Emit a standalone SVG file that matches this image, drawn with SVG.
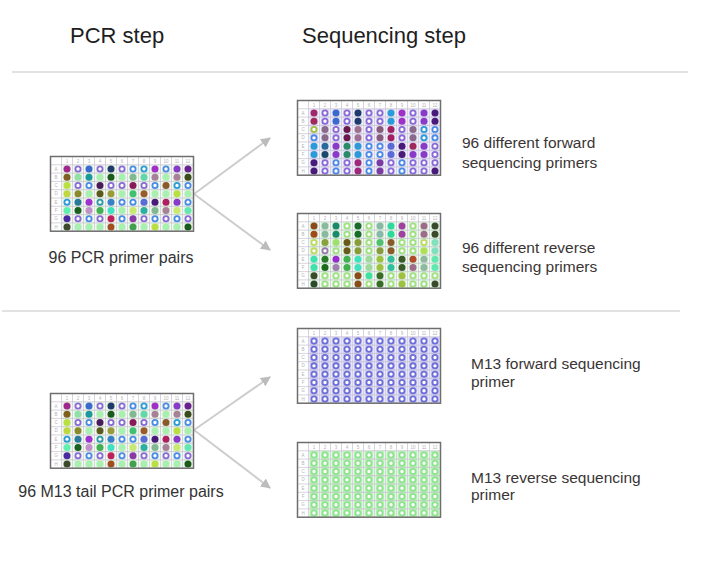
<svg xmlns="http://www.w3.org/2000/svg" xmlns:xlink="http://www.w3.org/1999/xlink" width="720" height="567" viewBox="0 0 720 567">
<style>
text{font-family:"Liberation Sans",Arial,sans-serif}
.hd{font-size:22px;fill:#1e1e1e}
.lb{font-size:16px;fill:#333}
.rl{font-size:15.5px;fill:#3a3535}
.sep{stroke:#e2e2e2;stroke-width:2;fill:none}
.con{stroke:#cdcdcd;stroke-width:2;fill:none}
.gl{stroke:#bdb6c8;stroke-width:0.6;fill:none}
.bd{stroke:#6e6e6e;stroke-width:1.5;fill:none}
.tiny{font-size:4.5px;fill:#b4b4b4;text-anchor:middle}
circle{r:3.5px}
.o{r:2.6px;fill:#fff;stroke-width:1.8}
.m13f .o{fill:#dedefa;stroke-width:1.6}
.m13r .o{fill:#c6f4c6;stroke-width:1.6}
</style>
<defs>
<marker id="ah" viewBox="0 0 10 10" refX="9" refY="5" markerWidth="10" markerHeight="10" markerUnits="userSpaceOnUse" orient="auto"><path d="M0 0L10 5L0 10z" fill="#bcbcbc"/></marker>
<g id="stripes"><rect x="12" y="8.3" width="9" height="66.4"/><rect x="23" y="8.3" width="9" height="66.4"/><rect x="34" y="8.3" width="9" height="66.4"/><rect x="45" y="8.3" width="9" height="66.4"/><rect x="56" y="8.3" width="9" height="66.4"/><rect x="67" y="8.3" width="9" height="66.4"/><rect x="78" y="8.3" width="9" height="66.4"/><rect x="89" y="8.3" width="9" height="66.4"/><rect x="100" y="8.3" width="9" height="66.4"/><rect x="111" y="8.3" width="9" height="66.4"/><rect x="122" y="8.3" width="9" height="66.4"/><rect x="133" y="8.3" width="9" height="66.4"/></g>
<g id="grid">
<path class="gl" d="M11 0V74.7M22 0V74.7M33 0V74.7M44 0V74.7M55 0V74.7M66 0V74.7M77 0V74.7M88 0V74.7M99 0V74.7M110 0V74.7M121 0V74.7M132 0V74.7M0 8.3H143M0 16.6H143M0 24.9H143M0 33.2H143M0 41.5H143M0 49.8H143M0 58.1H143M0 66.4H143"/>
<text class="tiny" x="16.5" y="6">1</text><text class="tiny" x="27.5" y="6">2</text><text class="tiny" x="38.5" y="6">3</text><text class="tiny" x="49.5" y="6">4</text><text class="tiny" x="60.5" y="6">5</text><text class="tiny" x="71.5" y="6">6</text><text class="tiny" x="82.5" y="6">7</text><text class="tiny" x="93.5" y="6">8</text><text class="tiny" x="104.5" y="6">9</text><text class="tiny" x="115.5" y="6">10</text><text class="tiny" x="126.5" y="6">11</text><text class="tiny" x="137.5" y="6">12</text>
<text class="tiny" x="5.5" y="14">A</text><text class="tiny" x="5.5" y="22.3">B</text><text class="tiny" x="5.5" y="30.6">C</text><text class="tiny" x="5.5" y="38.9">D</text><text class="tiny" x="5.5" y="47.2">E</text><text class="tiny" x="5.5" y="55.5">F</text><text class="tiny" x="5.5" y="63.8">G</text><text class="tiny" x="5.5" y="72.1">H</text>
</g>
<rect id="border" class="bd" x="0" y="0" width="143" height="74.7"/>
<g id="pcrWells">
<g transform="translate(0 12.45)"><circle cx="16.5" fill="#a0288c"/><circle class="o" cx="27.5" stroke="#8a6ad8"/><circle cx="38.5" fill="#3a6ad0"/><circle class="o" cx="49.5" stroke="#8a6ad8"/><circle cx="60.5" fill="#1e3a6a"/><circle class="o" cx="71.5" stroke="#8a6ad8"/><circle class="o" cx="82.5" stroke="#4a8ae8"/><circle class="o" cx="93.5" stroke="#2a9ad8"/><circle cx="104.5" fill="#a030c8"/><circle class="o" cx="115.5" stroke="#4a8ae8"/><circle cx="126.5" fill="#8a3ac8"/><circle cx="137.5" fill="#6a2090"/></g>
<g transform="translate(0 20.75)"><circle cx="16.5" fill="#806020"/><circle cx="27.5" fill="#90e0a8"/><circle cx="38.5" fill="#1a9a9a"/><circle cx="49.5" fill="#a8f0b0"/><circle cx="60.5" fill="#1a5a1a"/><circle cx="71.5" fill="#a8f0b0"/><circle cx="82.5" fill="#80b890"/><circle cx="93.5" fill="#60d8a8"/><circle cx="104.5" fill="#a88098"/><circle cx="115.5" fill="#a8f0b0"/><circle cx="126.5" fill="#a88098"/><circle cx="137.5" fill="#3a4a1a"/></g>
<g transform="translate(0 29.05)"><circle cx="16.5" fill="#b8e040"/><circle class="o" cx="27.5" stroke="#8a6ad8"/><circle class="o" cx="38.5" stroke="#4a8ae8"/><circle cx="49.5" fill="#4a1a5a"/><circle class="o" cx="60.5" stroke="#8a6ad8"/><circle class="o" cx="71.5" stroke="#8a6ad8"/><circle cx="82.5" fill="#8a1a5a"/><circle class="o" cx="93.5" stroke="#8a6ad8"/><circle class="o" cx="104.5" stroke="#4a8ae8"/><circle cx="115.5" fill="#8a5a2a"/><circle class="o" cx="126.5" stroke="#2a9ad8"/><circle class="o" cx="137.5" stroke="#4a8ae8"/></g>
<g transform="translate(0 37.35)"><circle cx="16.5" fill="#c0d840"/><circle cx="27.5" fill="#8a8a2a"/><circle cx="38.5" fill="#a8f0b0"/><circle cx="49.5" fill="#5a5a1a"/><circle cx="60.5" fill="#9a9a3a"/><circle cx="71.5" fill="#a8f0b0"/><circle cx="82.5" fill="#40c070"/><circle cx="93.5" fill="#9a5a2a"/><circle cx="104.5" fill="#a8f0b0"/><circle cx="115.5" fill="#a8f0b0"/><circle cx="126.5" fill="#b8e040"/><circle cx="137.5" fill="#a8f0b0"/></g>
<g transform="translate(0 45.65)"><circle class="o" cx="16.5" stroke="#2a9ad8"/><circle cx="27.5" fill="#2a7a9a"/><circle cx="38.5" fill="#a030d0"/><circle class="o" cx="49.5" stroke="#2a9aaa"/><circle cx="60.5" fill="#3a80c8"/><circle class="o" cx="71.5" stroke="#4a8ae8"/><circle class="o" cx="82.5" stroke="#4a8ae8"/><circle cx="93.5" fill="#5a6ad8"/><circle cx="104.5" fill="#4a1a7a"/><circle cx="115.5" fill="#b02060"/><circle cx="126.5" fill="#8a3ac8"/><circle class="o" cx="137.5" stroke="#4a8ae8"/></g>
<g transform="translate(0 53.95)"><circle cx="16.5" fill="#60f0b0"/><circle cx="27.5" fill="#1a6020"/><circle cx="38.5" fill="#c090c8"/><circle cx="49.5" fill="#40b050"/><circle cx="60.5" fill="#40e0c0"/><circle cx="71.5" fill="#a8f0b0"/><circle cx="82.5" fill="#c8e870"/><circle cx="93.5" fill="#2ab0a0"/><circle cx="104.5" fill="#80b890"/><circle cx="115.5" fill="#a88098"/><circle cx="126.5" fill="#c8e870"/><circle cx="137.5" fill="#60e8b0"/></g>
<g transform="translate(0 62.25)"><circle cx="16.5" fill="#4a2aa0"/><circle class="o" cx="27.5" stroke="#8a6ad8"/><circle class="o" cx="38.5" stroke="#4a8ae8"/><circle class="o" cx="49.5" stroke="#8a6ad8"/><circle cx="60.5" fill="#c0205a"/><circle class="o" cx="71.5" stroke="#4a8ae8"/><circle cx="82.5" fill="#8a3aa8"/><circle class="o" cx="93.5" stroke="#8a6ad8"/><circle class="o" cx="104.5" stroke="#4a8ae8"/><circle class="o" cx="115.5" stroke="#8a6ad8"/><circle class="o" cx="126.5" stroke="#4a8ae8"/><circle class="o" cx="137.5" stroke="#8a6ad8"/></g>
<g transform="translate(0 70.55)"><circle cx="16.5" fill="#3a4a2a"/><circle cx="27.5" fill="#a8f0b0"/><circle cx="38.5" fill="#a8f0b0"/><circle cx="49.5" fill="#a8f0b0"/><circle cx="60.5" fill="#a05020"/><circle cx="71.5" fill="#a8f0b0"/><circle cx="82.5" fill="#40a050"/><circle cx="93.5" fill="#a8f0b0"/><circle cx="104.5" fill="#b8e040"/><circle cx="115.5" fill="#a8f0b0"/><circle cx="126.5" fill="#a8f0b0"/><circle cx="137.5" fill="#1a5a1a"/></g>
</g>
<g id="m13fRow"><circle class="o" cx="16.5"/><circle class="o" cx="27.5"/><circle class="o" cx="38.5"/><circle class="o" cx="49.5"/><circle class="o" cx="60.5"/><circle class="o" cx="71.5"/><circle class="o" cx="82.5"/><circle class="o" cx="93.5"/><circle class="o" cx="104.5"/><circle class="o" cx="115.5"/><circle class="o" cx="126.5"/><circle class="o" cx="137.5"/></g>
</defs>
<rect width="720" height="567" fill="#fff"/>

<g id="headers">
<text class="hd" x="70" y="43">PCR step</text>
<text class="hd" x="302" y="43">Sequencing step</text>
</g>
<g id="separators">
<path class="sep" d="M12 72H688"/>
<path class="sep" d="M2 311H680"/>
</g>

<g id="connectors">
<path class="con" d="M194 194L270 138" marker-end="url(#ah)"/>
<path class="con" d="M194 194L270 250" marker-end="url(#ah)"/>
<path class="con" d="M194 430L270 377" marker-end="url(#ah)"/>
<path class="con" d="M194 430L270 488" marker-end="url(#ah)"/>
</g>

<g id="pcr-plate-1" transform="translate(50.5 156.5)">
<rect width="143" height="74.7" fill="#fff"/>
<use xlink:href="#stripes" fill="#e6f4e4"/>
<use xlink:href="#grid"/>
<use xlink:href="#pcrWells"/>
<use xlink:href="#border"/>
</g>
<g id="pcr-label-1"><text class="lb" x="121" y="263" text-anchor="middle">96 PCR primer pairs</text></g>

<g id="seq-forward-plate" transform="translate(297.5 100.5)">
<rect width="143" height="74.7" fill="#fff"/>
<use xlink:href="#stripes" fill="#e2e2f6"/>
<use xlink:href="#grid"/>
<g transform="translate(0 12.45)"><circle cx="16.5" fill="#a0286a"/><circle class="o" cx="27.5" stroke="#8a6ad8"/><circle cx="38.5" fill="#3a6ad0"/><circle class="o" cx="49.5" stroke="#8a6ad8"/><circle cx="60.5" fill="#1e3a6a"/><circle class="o" cx="71.5" stroke="#8a6ad8"/><circle class="o" cx="82.5" stroke="#8a6ad8"/><circle cx="93.5" fill="#2a9ad8"/><circle cx="104.5" fill="#a030c8"/><circle class="o" cx="115.5" stroke="#8a6ad8"/><circle cx="126.5" fill="#8a3ac8"/><circle cx="137.5" fill="#4a1a7a"/></g>
<g transform="translate(0 20.75)"><circle cx="16.5" fill="#a0285a"/><circle class="o" cx="27.5" stroke="#8a6ad8"/><circle cx="38.5" fill="#3a6ad0"/><circle class="o" cx="49.5" stroke="#8a6ad8"/><circle cx="60.5" fill="#1e3a6a"/><circle class="o" cx="71.5" stroke="#8a6ad8"/><circle class="o" cx="82.5" stroke="#8a6ad8"/><circle cx="93.5" fill="#2a9ad8"/><circle cx="104.5" fill="#a030c8"/><circle class="o" cx="115.5" stroke="#8a6ad8"/><circle cx="126.5" fill="#8a3ac8"/><circle cx="137.5" fill="#4a1a7a"/></g>
<g transform="translate(0 29.05)"><circle class="o" cx="16.5" stroke="#a0c040"/><circle cx="27.5" fill="#8a6a8a"/><circle class="o" cx="38.5" stroke="#8a6ad8"/><circle cx="49.5" fill="#6a1a4a"/><circle cx="60.5" fill="#a07090"/><circle class="o" cx="71.5" stroke="#8a6ad8"/><circle cx="82.5" fill="#8a5a7a"/><circle cx="93.5" fill="#a02060"/><circle class="o" cx="104.5" stroke="#8a6ad8"/><circle cx="115.5" fill="#8a6a8a"/><circle class="o" cx="126.5" stroke="#2a9ad8"/><circle class="o" cx="137.5" stroke="#4a8ae8"/></g>
<g transform="translate(0 37.35)"><circle class="o" cx="16.5" stroke="#4a8ae8"/><circle cx="27.5" fill="#8a6a8a"/><circle class="o" cx="38.5" stroke="#8a6ad8"/><circle cx="49.5" fill="#6a1a4a"/><circle cx="60.5" fill="#a07090"/><circle class="o" cx="71.5" stroke="#8a6ad8"/><circle cx="82.5" fill="#8a5a7a"/><circle cx="93.5" fill="#a02060"/><circle class="o" cx="104.5" stroke="#8a6ad8"/><circle cx="115.5" fill="#8a6a8a"/><circle class="o" cx="126.5" stroke="#2a9ad8"/><circle class="o" cx="137.5" stroke="#4a8ae8"/></g>
<g transform="translate(0 45.65)"><circle cx="16.5" fill="#2a9ad8"/><circle cx="27.5" fill="#2a6a9a"/><circle cx="38.5" fill="#8a3ac8"/><circle cx="49.5" fill="#2a8a6a"/><circle cx="60.5" fill="#2a9ad8"/><circle class="o" cx="71.5" stroke="#4a8ae8"/><circle class="o" cx="82.5" stroke="#4a8ae8"/><circle cx="93.5" fill="#5a6ad8"/><circle cx="104.5" fill="#4a1a7a"/><circle cx="115.5" fill="#a0285a"/><circle cx="126.5" fill="#8a3ac8"/><circle class="o" cx="137.5" stroke="#8a6ad8"/></g>
<g transform="translate(0 53.95)"><circle cx="16.5" fill="#2a9ad8"/><circle cx="27.5" fill="#1a4a6a"/><circle cx="38.5" fill="#8a3ac8"/><circle cx="49.5" fill="#2a8a6a"/><circle cx="60.5" fill="#2a9ad8"/><circle class="o" cx="71.5" stroke="#4a8ae8"/><circle class="o" cx="82.5" stroke="#4a8ae8"/><circle cx="93.5" fill="#5a6ad8"/><circle cx="104.5" fill="#4a1a7a"/><circle cx="115.5" fill="#8a3ac8"/><circle cx="126.5" fill="#8a3ac8"/><circle class="o" cx="137.5" stroke="#8a6ad8"/></g>
<g transform="translate(0 62.25)"><circle cx="16.5" fill="#4a1a7a"/><circle class="o" cx="27.5" stroke="#8a6ad8"/><circle class="o" cx="38.5" stroke="#4a8ae8"/><circle class="o" cx="49.5" stroke="#8a6ad8"/><circle cx="60.5" fill="#a0287a"/><circle class="o" cx="71.5" stroke="#4a8ae8"/><circle cx="82.5" fill="#7a3aa0"/><circle class="o" cx="93.5" stroke="#8a6ad8"/><circle class="o" cx="104.5" stroke="#4a8ae8"/><circle class="o" cx="115.5" stroke="#8a6ad8"/><circle class="o" cx="126.5" stroke="#8a6ad8"/><circle class="o" cx="137.5" stroke="#8a6ad8"/></g>
<g transform="translate(0 70.55)"><circle cx="16.5" fill="#4a1a7a"/><circle class="o" cx="27.5" stroke="#8a6ad8"/><circle class="o" cx="38.5" stroke="#4a8ae8"/><circle class="o" cx="49.5" stroke="#8a6ad8"/><circle cx="60.5" fill="#a0287a"/><circle class="o" cx="71.5" stroke="#4a8ae8"/><circle cx="82.5" fill="#7a3aa0"/><circle class="o" cx="93.5" stroke="#8a6ad8"/><circle class="o" cx="104.5" stroke="#4a8ae8"/><circle class="o" cx="115.5" stroke="#8a6ad8"/><circle class="o" cx="126.5" stroke="#8a6ad8"/><circle cx="137.5" fill="#4a1a7a"/></g>
<use xlink:href="#border"/>
</g>
<g id="seq-forward-label">
<text class="rl" x="462" y="148">96 different forward</text>
<text class="rl" x="462" y="168">sequencing primers</text>
</g>

<g id="seq-reverse-plate" transform="translate(297.5 213.5)">
<rect width="143" height="74.7" fill="#fff"/>
<use xlink:href="#stripes" fill="#dcf6dc"/>
<use xlink:href="#grid"/>
<g transform="translate(0 12.45)"><circle cx="16.5" fill="#8a4a1a"/><circle cx="27.5" fill="#8ab8a0"/><circle cx="38.5" fill="#1a8a6a"/><circle class="o" cx="49.5" stroke="#a0e080"/><circle cx="60.5" fill="#1a6a2a"/><circle class="o" cx="71.5" stroke="#a0e080"/><circle cx="82.5" fill="#8ab8a8"/><circle cx="93.5" fill="#30d8a0"/><circle cx="104.5" fill="#a040a0"/><circle class="o" cx="115.5" stroke="#a0e080"/><circle cx="126.5" fill="#a06a8a"/><circle cx="137.5" fill="#3a4a2a"/></g>
<g transform="translate(0 20.75)"><circle cx="16.5" fill="#a04a1a"/><circle cx="27.5" fill="#8ab8a0"/><circle cx="38.5" fill="#1a8a6a"/><circle class="o" cx="49.5" stroke="#a0e080"/><circle cx="60.5" fill="#1a6a2a"/><circle class="o" cx="71.5" stroke="#a0e080"/><circle cx="82.5" fill="#8ab8a8"/><circle cx="93.5" fill="#30d8a0"/><circle cx="104.5" fill="#a040a0"/><circle class="o" cx="115.5" stroke="#a0e080"/><circle cx="126.5" fill="#a06a8a"/><circle cx="137.5" fill="#3a4a2a"/></g>
<g transform="translate(0 29.05)"><circle class="o" cx="16.5" stroke="#c0d860"/><circle cx="27.5" fill="#8aa040"/><circle cx="38.5" fill="#a0e070"/><circle cx="49.5" fill="#6a5a1a"/><circle cx="60.5" fill="#8a9a3a"/><circle class="o" cx="71.5" stroke="#a0e080"/><circle cx="82.5" fill="#50c070"/><circle cx="93.5" fill="#8a5a2a"/><circle class="o" cx="104.5" stroke="#a0e080"/><circle class="o" cx="115.5" stroke="#a0e080"/><circle class="o" cx="126.5" stroke="#c0d860"/><circle cx="137.5" fill="#80e0c0"/></g>
<g transform="translate(0 37.35)"><circle class="o" cx="16.5" stroke="#c0d860"/><circle class="o" cx="27.5" stroke="#9a7ab0"/><circle class="o" cx="38.5" stroke="#a0e080"/><circle cx="49.5" fill="#6a5a1a"/><circle cx="60.5" fill="#8a9a3a"/><circle class="o" cx="71.5" stroke="#a0e080"/><circle cx="82.5" fill="#8a9a3a"/><circle cx="93.5" fill="#8a5a2a"/><circle class="o" cx="104.5" stroke="#a0e080"/><circle class="o" cx="115.5" stroke="#a0e080"/><circle cx="126.5" fill="#b0e050"/><circle cx="137.5" fill="#80e0c0"/></g>
<g transform="translate(0 45.65)"><circle cx="16.5" fill="#40e0b0"/><circle cx="27.5" fill="#2a7a2a"/><circle cx="38.5" fill="#9a2ad0"/><circle cx="49.5" fill="#40b050"/><circle cx="60.5" fill="#40e0c0"/><circle cx="71.5" fill="#a0d8a0"/><circle cx="82.5" fill="#a0c040"/><circle cx="93.5" fill="#30c0a0"/><circle cx="104.5" fill="#3a5a2a"/><circle cx="115.5" fill="#b04a2a"/><circle cx="126.5" fill="#90b8a0"/><circle cx="137.5" fill="#60e8b0"/></g>
<g transform="translate(0 53.95)"><circle cx="16.5" fill="#40e0b0"/><circle cx="27.5" fill="#1a6a1a"/><circle cx="38.5" fill="#a080b0"/><circle cx="49.5" fill="#40b050"/><circle cx="60.5" fill="#40e0c0"/><circle cx="71.5" fill="#a0d8a0"/><circle cx="82.5" fill="#a0c040"/><circle cx="93.5" fill="#30c0a0"/><circle cx="104.5" fill="#3a5a2a"/><circle cx="115.5" fill="#a06a8a"/><circle cx="126.5" fill="#90b8a0"/><circle cx="137.5" fill="#60e8b0"/></g>
<g transform="translate(0 62.25)"><circle cx="16.5" fill="#3a4a2a"/><circle class="o" cx="27.5" stroke="#a0e080"/><circle class="o" cx="38.5" stroke="#a0e080"/><circle class="o" cx="49.5" stroke="#a0e080"/><circle cx="60.5" fill="#8a4a1a"/><circle cx="71.5" fill="#40e0a0"/><circle cx="82.5" fill="#3a6a2a"/><circle class="o" cx="93.5" stroke="#a0e080"/><circle cx="104.5" fill="#a0c040"/><circle class="o" cx="115.5" stroke="#a0e080"/><circle class="o" cx="126.5" stroke="#a0e080"/><circle class="o" cx="137.5" stroke="#a0e080"/></g>
<g transform="translate(0 70.55)"><circle cx="16.5" fill="#2a4a2a"/><circle class="o" cx="27.5" stroke="#a0e080"/><circle class="o" cx="38.5" stroke="#a0e080"/><circle class="o" cx="49.5" stroke="#a0e080"/><circle cx="60.5" fill="#8a4a1a"/><circle class="o" cx="71.5" stroke="#a0e080"/><circle cx="82.5" fill="#3a6a2a"/><circle class="o" cx="93.5" stroke="#a0e080"/><circle cx="104.5" fill="#a0c040"/><circle class="o" cx="115.5" stroke="#a0e080"/><circle class="o" cx="126.5" stroke="#a0e080"/><circle cx="137.5" fill="#3a4a2a"/></g>
<use xlink:href="#border"/>
</g>
<g id="seq-reverse-label">
<text class="rl" x="462" y="253">96 different reverse</text>
<text class="rl" x="462" y="272">sequencing primers</text>
</g>

<g id="pcr-plate-2" transform="translate(50.5 393.5)">
<rect width="143" height="74.7" fill="#fff"/>
<use xlink:href="#stripes" fill="#e6f4e4"/>
<use xlink:href="#grid"/>
<use xlink:href="#pcrWells"/>
<use xlink:href="#border"/>
</g>
<g id="pcr-label-2"><text class="lb" x="121" y="497" text-anchor="middle">96 M13 tail PCR primer pairs</text></g>

<g id="m13-forward-plate" transform="translate(297.5 328.5)">
<rect width="143" height="74.7" fill="#fff"/>
<use xlink:href="#stripes" fill="#cfcff6"/>
<use xlink:href="#grid"/>
<g class="m13f" stroke="#6e6ed8">
<use xlink:href="#m13fRow" y="12.45"/><use xlink:href="#m13fRow" y="20.75"/><use xlink:href="#m13fRow" y="29.05"/><use xlink:href="#m13fRow" y="37.35"/><use xlink:href="#m13fRow" y="45.65"/><use xlink:href="#m13fRow" y="53.95"/><use xlink:href="#m13fRow" y="62.25"/><use xlink:href="#m13fRow" y="70.55"/>
</g>
<use xlink:href="#border"/>
</g>
<g id="m13-forward-label">
<text class="rl" x="471" y="369">M13 forward sequencing</text>
<text class="rl" x="471" y="387">primer</text>
</g>

<g id="m13-reverse-plate" transform="translate(297.5 442.5)">
<rect width="143" height="74.7" fill="#fff"/>
<use xlink:href="#stripes" fill="#bff2bf"/>
<use xlink:href="#grid"/>
<g class="m13r" stroke="#8ee48e">
<use xlink:href="#m13fRow" y="12.45"/><use xlink:href="#m13fRow" y="20.75"/><use xlink:href="#m13fRow" y="29.05"/><use xlink:href="#m13fRow" y="37.35"/><use xlink:href="#m13fRow" y="45.65"/><use xlink:href="#m13fRow" y="53.95"/><use xlink:href="#m13fRow" y="62.25"/><use xlink:href="#m13fRow" y="70.55"/>
</g>
<use xlink:href="#border"/>
</g>
<g id="m13-reverse-label">
<text class="rl" x="471" y="483">M13 reverse sequencing</text>
<text class="rl" x="471" y="500">primer</text>
</g>
</svg>
